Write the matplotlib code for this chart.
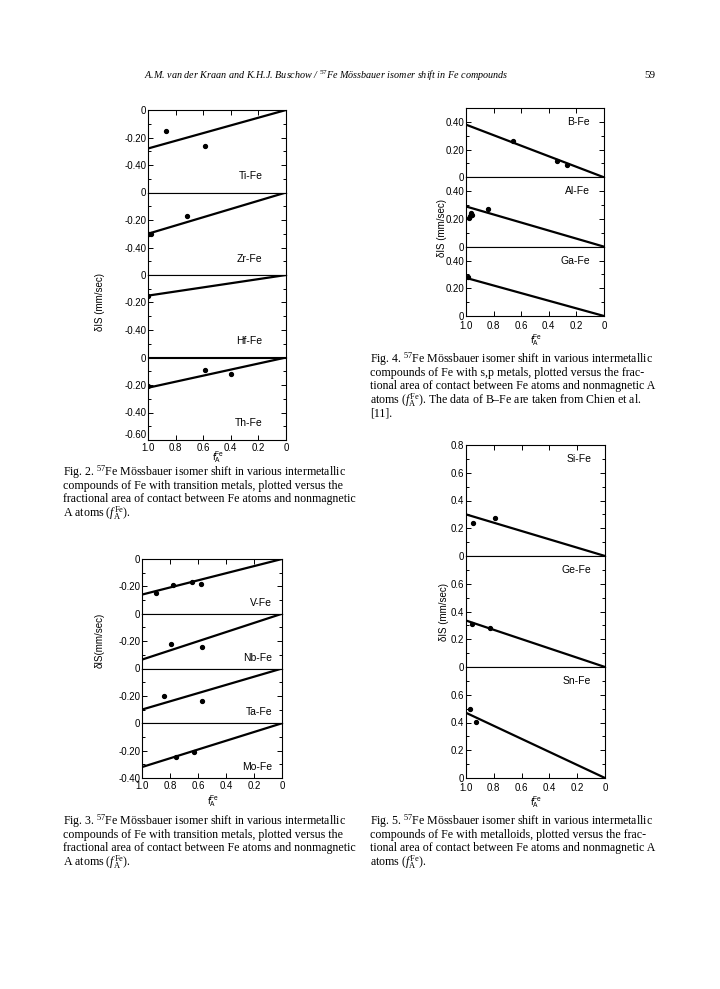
import matplotlib.pyplot as plt
from matplotlib.ticker import MultipleLocator

plt.rcParams['font.family'] = ['Liberation Sans', 'DejaVu Sans']
plt.rcParams['mathtext.fontset'] = 'custom'
plt.rcParams['mathtext.rm'] = 'Liberation Serif'
plt.rcParams['mathtext.it'] = 'Liberation Serif:italic'
plt.rcParams['mathtext.bf'] = 'Liberation Serif:bold'
plt.rcParams['mathtext.sf'] = 'Liberation Sans'

# common fit lines run from f = 1.0 to f = 0
fit_f = [1.0, 0.0]

# Fig. 2 - transition metals (Ti, Zr, Hf, Th)
ti_f, ti_is, ti_fit = [0.87, 0.59], [-0.15, -0.26], [-0.28, 0.0]
zr_f, zr_is, zr_fit = [0.99, 0.98, 0.715], [-0.30, -0.30, -0.17], [-0.30, 0.0]
hf_f, hf_is, hf_fit = [1.0], [-0.15], [-0.15, 0.0]
th_f, th_is, th_fit = [1.0, 0.59, 0.40], [-0.21, -0.09, -0.12], [-0.22, 0.0]

# Fig. 3 - transition metals (V, Nb, Ta, Mo)
v_f, v_is, v_fit = [0.90, 0.78, 0.64, 0.58], [-0.25, -0.19, -0.17, -0.18], [-0.26, 0.0]
nb_f, nb_is, nb_fit = [0.79, 0.57], [-0.22, -0.24], [-0.335, 0.0]
ta_f, ta_is, ta_fit = [0.84, 0.57], [-0.20, -0.24], [-0.30, 0.0]
mo_f, mo_is, mo_fit = [0.76, 0.63], [-0.245, -0.21], [-0.32, 0.0]

# Fig. 4 - s,p metals (B, Al, Ga)
b_f, b_is, b_fit = [0.66, 0.34, 0.265], [0.26, 0.12, 0.09], [0.38, 0.0]
al_f, al_is, al_fit = [0.975, 0.97, 0.965, 0.96, 0.84], [0.21, 0.22, 0.24, 0.23, 0.27], [0.29, 0.0]
ga_f, ga_is, ga_fit = [0.985], [0.28], [0.275, 0.0]

# Fig. 5 - metalloids (Si, Ge, Sn)
si_f, si_is, si_fit = [0.95, 0.79], [0.24, 0.275], [0.30, 0.0]
ge_f, ge_is, ge_fit = [0.955, 0.83], [0.31, 0.28], [0.335, 0.0]
sn_f, sn_is, sn_fit = [0.97, 0.93], [0.50, 0.405], [0.47, 0.0]

x_ticks = [1.0, 0.8, 0.6, 0.4, 0.2, 0.0]
x_ticklabels = ["1.0", "0.8", "0.6", "0.4", "0.2", "0"]

W, H = 720, 989
fig = plt.figure(figsize=(W / 100, H / 100), dpi=100)
fig.patch.set_facecolor("white")


def px_axes(l, t, r, b):
    return fig.add_axes([l / W, 1 - b / H, (r - l) / W, (b - t) / H])


def fmt(v, digits):
    if abs(v) < 1e-9:
        return "0"
    return f"{v:.{digits}f}"


def draw_stack(box, panels, ylim, ticks, extra, digits, lab_pos, xpad=2.5, lift_last=False):
    l, t, r, b = box
    n = len(panels)
    h = (b - t) / n
    for i, (name, f, v, fit) in enumerate(panels):
        ax = px_axes(l, t + i * h, r, t + (i + 1) * h)
        ax.plot(fit_f, fit, color="black", lw=1.6, solid_capstyle="butt")
        ax.plot(f, v, "o", color="black", ms=2.8)
        ax.set_xlim(1.0, 0.0)
        ax.set_ylim(*ylim)
        yt = list(ticks)
        if i in extra:
            yt.append(extra[i])
        ax.set_yticks(yt)
        labels = ax.set_yticklabels([fmt(y, digits) for y in yt])
        if lift_last and i == n - 1:
            labels[-1].set_va("bottom")
        ax.yaxis.set_minor_locator(MultipleLocator(0.1))
        ax.set_xticks(x_ticks)
        ax.tick_params(axis="both", which="both", direction="in", labelsize=7,
                       width=0.7)
        ax.tick_params(axis="y", which="major", length=3.5, right=True, pad=1.2)
        ax.tick_params(axis="y", which="minor", length=2, right=True)
        ax.tick_params(axis="x", length=3.5, top=(i == 0), bottom=(i == n - 1),
                       labelbottom=(i == n - 1), pad=xpad)
        if i == n - 1:
            ax.set_xticklabels(x_ticklabels)
        for s in ax.spines.values():
            s.set_linewidth(0.8)
        ax.text(lab_pos[0], lab_pos[1], name, transform=ax.transAxes,
                ha="right", va="center", fontsize=7.5)


# Fig. 2
draw_stack((148, 110, 286, 440),
           [("Ti-Fe", ti_f, ti_is, ti_fit), ("Zr-Fe", zr_f, zr_is, zr_fit),
            ("Hf-Fe", hf_f, hf_is, hf_fit), ("Th-Fe", th_f, th_is, th_fit)],
           (-0.6, 0.0), [0.0, -0.2, -0.4], {3: -0.6}, 2, (0.83, 0.2), xpad=2.0,
           lift_last=True)
# Fig. 3
draw_stack((142, 559, 282, 778),
           [("V-Fe", v_f, v_is, v_fit), ("Nb-Fe", nb_f, nb_is, nb_fit),
            ("Ta-Fe", ta_f, ta_is, ta_fit), ("Mo-Fe", mo_f, mo_is, mo_fit)],
           (-0.4, 0.0), [0.0, -0.2], {3: -0.4}, 2, (0.93, 0.2))
# Fig. 4
draw_stack((466, 108, 604, 316),
           [("B-Fe", b_f, b_is, b_fit), ("Al-Fe", al_f, al_is, al_fit),
            ("Ga-Fe", ga_f, ga_is, ga_fit)],
           (0.0, 0.5), [0.0, 0.2, 0.4], {}, 2, (0.9, 0.8), xpad=3.5)
# Fig. 5
draw_stack((466, 445, 605, 778),
           [("Si-Fe", si_f, si_is, si_fit), ("Ge-Fe", ge_f, ge_is, ge_fit),
            ("Sn-Fe", sn_f, sn_is, sn_fit)],
           (0.0, 0.8), [0.0, 0.2, 0.4, 0.6], {0: 0.8}, 1, (0.9, 0.87), xpad=3.5)


def ftext(x, y, s, **kw):
    fig.text(x / W, 1 - y / H, s, **kw)


# axis titles
ylab = "\u03b4IS (mm/sec)"
for (x, y, s) in [(100, 302, ylab), (100, 640, "\u03b4IS(mm/sec)"),
                  (442, 228, ylab), (444, 612, ylab)]:
    ftext(x, y, s, rotation=90, ha="center", va="center", fontsize=7)
xlab = r"$\mathsf{f}_{\mathsf{A}}^{\mathsf{Fe}}$"
for (x, y) in [(218, 457), (213, 801), (536, 340), (536, 802)]:
    ftext(x, y, xlab, ha="center", va="center", fontsize=6.8)

# page header
ftext(326, 76, "A.M. van der Kraan and K.H.J. Buschow / $^{57}$Fe M\u00f6ssbauer isomer shift in Fe compounds",
      ha="center", va="center", fontsize=7.3, style="italic", family="Liberation Serif")
ftext(650, 76, "59", ha="center", va="center", fontsize=8, family="Liberation Serif")

fA = r"$f_{\rm A}^{\rm Fe}$"
cap2 = ["Fig. 2. $^{57}$Fe M\u00f6ssbauer isomer shift in various intermetallic",
        "compounds of Fe with transition metals, plotted versus the",
        "fractional area of contact between Fe atoms and nonmagnetic",
        "A atoms (" + fA + ")."]
cap3 = ["Fig. 3. $^{57}$Fe M\u00f6ssbauer isomer shift in various intermetallic",
        "compounds of Fe with transition metals, plotted versus the",
        "fractional area of contact between Fe atoms and nonmagnetic",
        "A atoms (" + fA + ")."]
cap4 = ["Fig. 4. $^{57}$Fe M\u00f6ssbauer isomer shift in various intermetallic",
        "compounds of Fe with s,p metals, plotted versus the frac-",
        "tional area of contact between Fe atoms and nonmagnetic A",
        "atoms (" + fA + "). The data of B\u2013Fe are taken from Chien et al.",
        "[11]."]
cap5 = ["Fig. 5. $^{57}$Fe M\u00f6ssbauer isomer shift in various intermetallic",
        "compounds of Fe with metalloids, plotted versus the frac-",
        "tional area of contact between Fe atoms and nonmagnetic A",
        "atoms (" + fA + ")."]
for (x, y0, lines) in [(63, 472, cap2), (63, 821, cap3), (370, 359, cap4), (370, 821, cap5)]:
    for k, line in enumerate(lines):
        ftext(x, y0 + k * 13.7, line, ha="left", va="center", fontsize=8.6,
              family="Liberation Serif")

fig.savefig("out.png", dpi=100, facecolor="white")
